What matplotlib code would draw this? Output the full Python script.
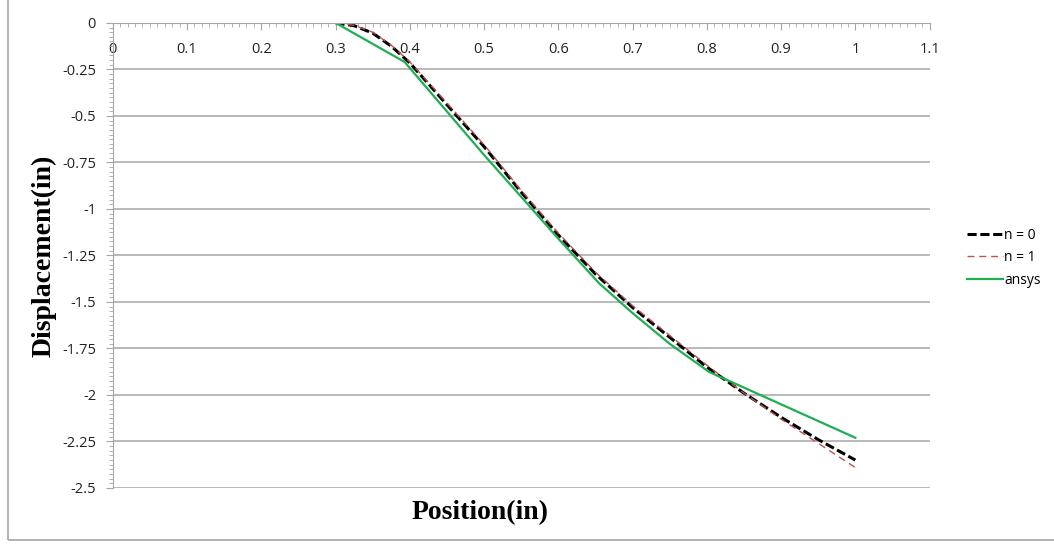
import matplotlib.pyplot as plt
import numpy as np
from matplotlib.ticker import MultipleLocator, FuncFormatter
from matplotlib.patches import Rectangle

# position along the beam (in)
x_n = [0.3, 0.325, 0.35, 0.375, 0.4, 0.45, 0.5, 0.55, 0.6, 0.65, 0.7, 0.75, 0.8, 0.85, 0.9, 0.95, 1.0]
n0 = [0, -0.015, -0.055, -0.125, -0.215, -0.44, -0.665, -0.91, -1.14, -1.35, -1.53, -1.69, -1.85, -1.99, -2.12, -2.24, -2.35]
n1 = [0, -0.013, -0.05, -0.12, -0.21, -0.43, -0.655, -0.90, -1.13, -1.34, -1.52, -1.68, -1.84, -1.99, -2.13, -2.26, -2.39]

x_ansys = [0.3, 0.393, 0.5, 0.6, 0.655, 0.7, 0.75, 0.803, 1.0]
ansys = [0, -0.21, -0.71, -1.16, -1.40, -1.56, -1.725, -1.876, -2.23]

fig = plt.figure(figsize=(10.54, 5.45), dpi=100)
ax = fig.add_axes([0.107, 0.1046, 0.775, 0.8534])

ax.plot(x_n, n0, color='black', lw=2.2, ls=(0, (3, 1.2)), label='n = 0')
ax.plot(x_n, n1, color='#c0504d', lw=1.0, ls=(0, (5, 3.5)), label='n = 1')
ax.plot(x_ansys, ansys, color='#1fae50', lw=1.6, label='ansys')

ax.set_xlim(0, 1.1)
ax.set_ylim(-2.5, 0)
ax.xaxis.set_major_locator(MultipleLocator(0.1))
ax.xaxis.set_minor_locator(MultipleLocator(0.01))
ax.yaxis.set_major_locator(MultipleLocator(0.25))
ax.yaxis.set_minor_locator(MultipleLocator(0.025))
ax.xaxis.set_major_formatter(FuncFormatter(lambda v, p: f'{v:g}'))
ax.yaxis.set_major_formatter(FuncFormatter(lambda v, p: f'{v:g}'))

for s in ['top', 'right']:
    ax.spines[s].set_visible(False)
ax.spines['bottom'].set_position(('data', 0))
ax.spines['bottom'].set_color('#a6a6a6')
ax.spines['left'].set_color('#a6a6a6')
ax.grid(axis='y', color='#a6a6a6', lw=1.1)
ax.set_axisbelow(True)

ax.tick_params(axis='both', which='both', color='#a6a6a6', labelsize=10.5, labelcolor='#222222')
ax.tick_params(axis='x', which='major', length=5, pad=9)
ax.tick_params(axis='x', which='minor', length=3)
ax.tick_params(axis='y', which='major', length=5, pad=7)
ax.tick_params(axis='y', which='minor', length=3)
for lab in ax.get_xticklabels() + ax.get_yticklabels():
    lab.set_family('Open Sans')

ax.set_xlabel('Position(in)', family='Liberation Serif', fontweight='bold', fontsize=20)
ax.xaxis.set_label_coords(0.45, -0.025, transform=ax.transAxes)
ax.xaxis.label.set_va('top')
ax.set_ylabel('Displacement(in)', family='Liberation Serif', fontweight='bold', fontsize=20)
ax.yaxis.set_label_coords(-0.069, 0.5)

ax.legend(loc='center left', bbox_to_anchor=(1.03, 0.495), frameon=False, handlelength=2.6,
          handletextpad=0.1, labelspacing=0.55, prop={'family': 'Open Sans', 'size': 10})

fig.patches.append(Rectangle((8 / 1054, 5 / 545), 1.5, 1.5, transform=fig.transFigure,
                             fill=False, edgecolor='#a6a6a6', lw=1.2))

fig.savefig('out.png', dpi=100)
